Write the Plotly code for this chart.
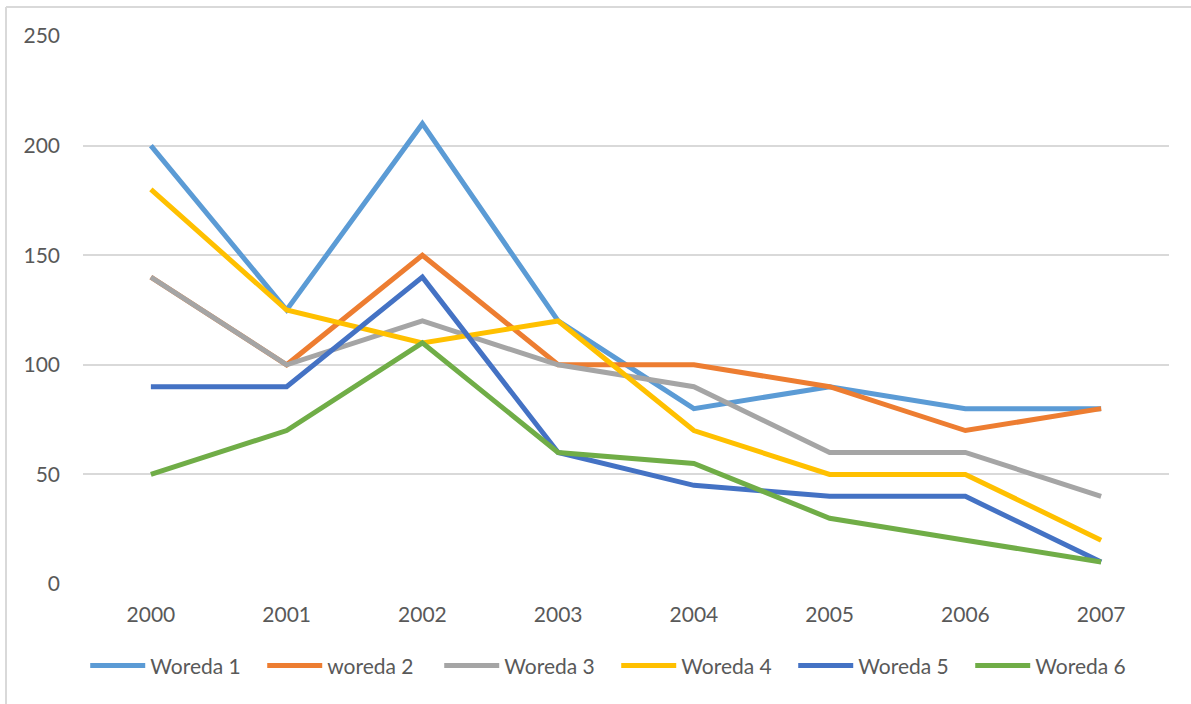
import plotly.graph_objects as go

years = ["2000", "2001", "2002", "2003", "2004", "2005", "2006", "2007"]
series_names = ["Woreda 1", "woreda 2", "Woreda 3", "Woreda 4", "Woreda 5", "Woreda 6"]
woreda1 = [200, 125, 210, 120, 80, 90, 80, 80]
woreda2 = [140, 100, 150, 100, 100, 90, 70, 80]
woreda3 = [140, 100, 120, 100, 90, 60, 60, 40]
woreda4 = [180, 125, 110, 120, 70, 50, 50, 20]
woreda5 = [90, 90, 140, 60, 45, 40, 40, 10]
woreda6 = [50, 70, 110, 60, 55, 30, 20, 10]
y_ticks = [0, 50, 100, 150, 200, 250]

colors = ["#5B9BD5", "#ED7D31", "#A5A5A5", "#FFC000", "#4472C4", "#70AD47"]
values = [woreda1, woreda2, woreda3, woreda4, woreda5, woreda6]

W, H = 1191, 704
fig = go.Figure()
for name, vals, col in zip(series_names, values, colors):
    fig.add_trace(go.Scatter(
        x=years, y=vals, name=name, mode="lines",
        line=dict(color=col, width=5, shape="linear"),
    ))

fig.update_layout(
    width=W, height=H,
    margin=dict(l=83, r=22, t=36, b=120),
    paper_bgcolor="white", plot_bgcolor="white",
    font=dict(family="Lato, 'Open Sans', sans-serif", size=21, color="#595959"),
    showlegend=True,
    legend=dict(
        orientation="h", x=0.491, xanchor="center", y=-0.112, yanchor="top",
        font=dict(size=21, color="#595959"), itemwidth=55,
        entrywidth=107, entrywidthmode="pixels",
        tracegroupgap=0, itemsizing="constant",
    ),
    xaxis=dict(
        type="category", range=[-0.5, 7.5], showgrid=False, zeroline=False,
        showline=False, ticks="", ticklabelstandoff=16,
    ),
    yaxis=dict(
        range=[0, 250], tickvals=y_ticks, showgrid=True, gridcolor="#D9D9D9",
        gridwidth=1.5, zeroline=False, showline=False, ticks="",
        ticklabelstandoff=22,
    ),
    shapes=[
        dict(type="line", xref="paper", yref="paper",
             x0=-77 / (W - 105), x1=1.2, y0=1 + 29 / 548, y1=1 + 29 / 548,
             line=dict(color="#D9D9D9", width=2)),
        dict(type="line", xref="paper", yref="paper",
             x0=-77 / (W - 105), x1=-77 / (W - 105), y0=1 + 29 / 548, y1=-0.3,
             line=dict(color="#D9D9D9", width=2)),
    ],
)

fig.write_html("out.html")
